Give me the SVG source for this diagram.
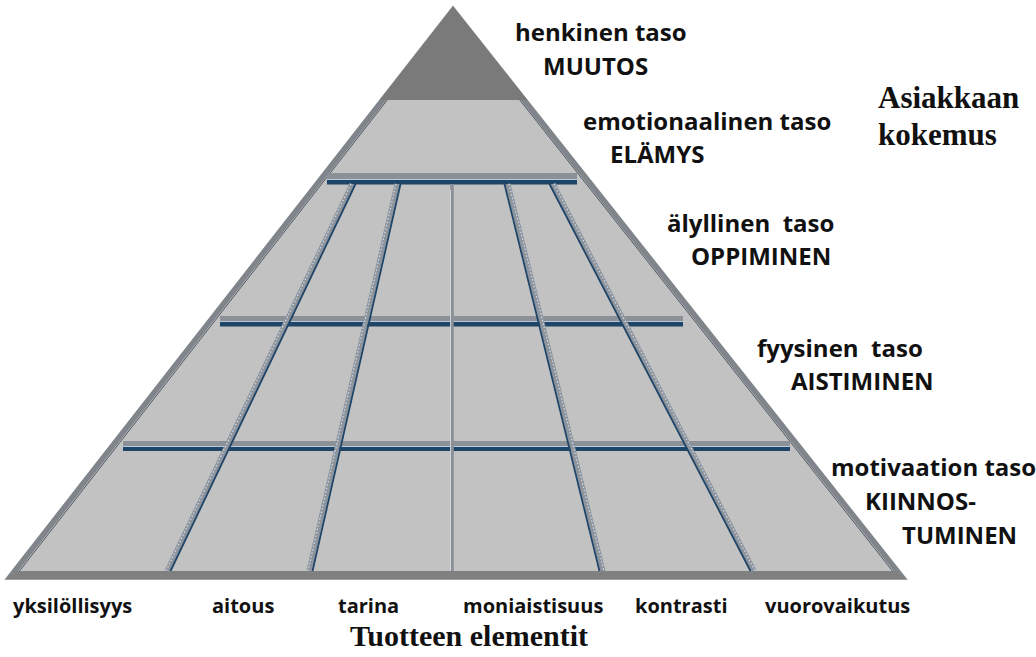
<svg xmlns="http://www.w3.org/2000/svg" width="1036" height="657" viewBox="0 0 1036 657">
<defs>
<style>
.lbl{font-family:"Open Sans","Liberation Sans",sans-serif;font-weight:700;font-size:24px;fill:#111;white-space:pre}
.bot{font-family:"Open Sans","Liberation Sans",sans-serif;font-weight:700;font-size:20px;fill:#111;white-space:pre}
.ttl{font-family:"Liberation Serif","Times New Roman",serif;font-weight:700;font-size:31px;fill:#111}
.ttl2{font-family:"Liberation Serif","Times New Roman",serif;font-weight:700;font-size:30px;fill:#111}
.gbar{fill:#8c9198}
.nbar{fill:#1e4468}
.hl{fill:#b7c9dd}
.colg{stroke:#8d949c;stroke-width:5;fill:none}
.colt{stroke:#cfdced;stroke-width:1.2;stroke-dasharray:1.5 2;fill:none}
.coln{stroke:#1e4468;stroke-width:1.8;fill:none}
</style>
</defs>
<rect width="1036" height="657" fill="#fff"/>
<g id="pyramid">
<polygon points="453,10 902,577 10,577" fill="#c2c2c2" stroke="#80858b" stroke-width="5.5" stroke-linejoin="miter"/>
<line x1="388" y1="99" x2="19.5" y2="571" stroke="#4f5966" stroke-width="1"/>
<line x1="519" y1="99" x2="892.5" y2="571" stroke="#4f5966" stroke-width="1"/>
<polygon points="453,10 523,98 384,98" fill="#7a7a7a" stroke="#7a7a7a" stroke-width="4" stroke-linejoin="miter"/>
<polygon points="16,571 896,571 904,579 8,579" fill="#808080"/>
</g>
<g id="connectors">
<g id="bars">
<rect class="gbar" x="327" y="173" width="250" height="6"/>
<rect class="hl" x="327" y="179" width="250" height="1"/>
<rect class="nbar" x="327" y="180" width="250" height="4.5"/>
<rect class="gbar" x="220" y="316" width="463" height="5"/>
<rect class="hl" x="220" y="321" width="463" height="1"/>
<rect class="nbar" x="220" y="322" width="463" height="4.5"/>
<rect class="gbar" x="123" y="441" width="667" height="5"/>
<rect class="hl" x="123" y="446" width="667" height="1"/>
<rect class="nbar" x="123" y="447" width="667" height="4"/>
</g>
<g id="columns">
<line class="colg" x1="352" y1="184" x2="167" y2="571"/>
<line class="colt" x1="351" y1="184" x2="166" y2="571"/>
<line class="coln" x1="355.5" y1="184" x2="170.5" y2="571"/>
<line class="colg" x1="397" y1="184" x2="309" y2="571"/>
<line class="colt" x1="396" y1="184" x2="308" y2="571"/>
<line class="coln" x1="400.5" y1="184" x2="312.5" y2="571"/>
<line x1="452" y1="184" x2="452" y2="571" stroke="#8b9096" stroke-width="3.5"/>
<line x1="450.5" y1="190" x2="450.5" y2="571" stroke="#dbe6f0" stroke-width="0.8"/>
<line class="colg" x1="508" y1="184" x2="603" y2="571"/>
<line class="colt" x1="509" y1="184" x2="604" y2="571"/>
<line class="coln" x1="504.5" y1="184" x2="599.5" y2="571"/>
<line class="colg" x1="553" y1="184" x2="754" y2="571"/>
<line class="colt" x1="554" y1="184" x2="755" y2="571"/>
<line class="coln" x1="549.5" y1="184" x2="750.5" y2="571"/>
</g>
</g>
<g id="level-henkinen"><text class="lbl" x="515" y="41">henkinen taso</text><text class="lbl" x="543" y="75">MUUTOS</text></g>
<g id="level-emotionaalinen"><text class="lbl" x="583" y="130">emotionaalinen taso</text><text class="lbl" x="610" y="163">ELÄMYS</text></g>
<g id="level-alyllinen"><text class="lbl" x="667" y="232">älyllinen  taso</text><text class="lbl" x="691" y="265">OPPIMINEN</text></g>
<g id="level-fyysinen"><text class="lbl" x="757" y="357">fyysinen  taso</text><text class="lbl" x="791" y="390">AISTIMINEN</text></g>
<g id="level-motivaatio"><text class="lbl" x="831" y="476">motivaation taso</text><text class="lbl" x="865" y="510">KIINNOS-</text><text class="lbl" x="902" y="544">TUMINEN</text></g>
<g id="title-asiakas"><text class="ttl" x="878" y="108">Asiakkaan</text><text class="ttl" x="878" y="145">kokemus</text></g>
<g id="elements">
<text class="bot" x="13" y="613">yksilöllisyys</text>
<text class="bot" x="212" y="613">aitous</text>
<text class="bot" x="338" y="613">tarina</text>
<text class="bot" x="463" y="613">moniaistisuus</text>
<text class="bot" x="635" y="613">kontrasti</text>
<text class="bot" x="765" y="613">vuorovaikutus</text>
</g>
<g id="title-tuote"><text class="ttl2" x="350" y="646">Tuotteen elementit</text></g>
</svg>
